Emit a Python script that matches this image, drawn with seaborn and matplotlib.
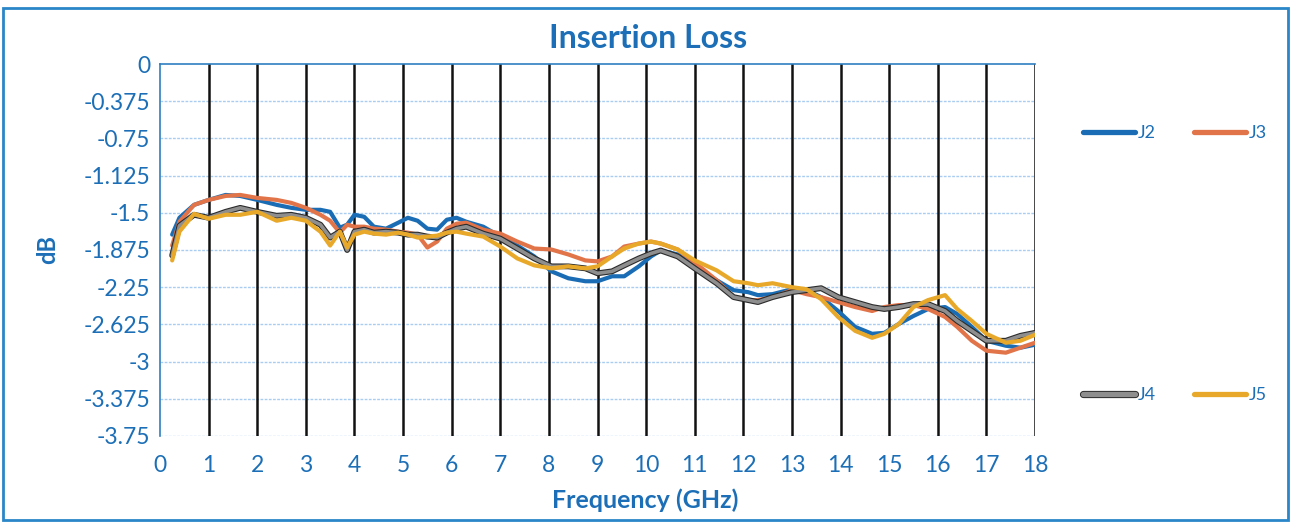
import numpy as np
import pandas as pd
import matplotlib
matplotlib.use("Agg")
import matplotlib.pyplot as plt
import matplotlib.patheffects as pe
from matplotlib.lines import Line2D
from matplotlib.patches import Rectangle
import seaborn as sns

freq = [0.25, 0.4, 0.7, 1.0, 1.35, 1.65, 2.0, 2.4, 2.7, 3.0, 3.3, 3.5, 3.7, 3.85,
        4.0, 4.2, 4.4, 4.65, 4.9, 5.1, 5.3, 5.5, 5.7, 5.9, 6.1, 6.3, 6.65, 7.0,
        7.35, 7.7, 8.05, 8.4, 8.75, 9.0, 9.3, 9.55, 9.85, 10.1, 10.3, 10.65, 11.0,
        11.45, 11.8, 12.1, 12.3, 12.6, 13.0, 13.3, 13.6, 13.95, 14.3, 14.65, 14.9,
        15.2, 15.5, 15.8, 16.15, 16.4, 16.7, 17.0, 17.4, 17.7, 18.0]

j2 = [-1.72, -1.55, -1.42, -1.37, -1.32, -1.33, -1.37, -1.42, -1.45, -1.47, -1.47, -1.49, -1.65, -1.62,
      -1.52, -1.54, -1.64, -1.66, -1.60, -1.55, -1.58, -1.66, -1.67, -1.57, -1.55, -1.59, -1.64, -1.74,
      -1.83, -1.94, -2.09, -2.16, -2.19, -2.19, -2.14, -2.14, -2.04, -1.94, -1.88, -1.92, -2.04,
      -2.18, -2.28, -2.30, -2.33, -2.32, -2.27, -2.28, -2.35, -2.49, -2.65, -2.72, -2.71,
      -2.62, -2.54, -2.47, -2.45, -2.52, -2.65, -2.79, -2.84, -2.86, -2.83]

j3 = [-1.83, -1.59, -1.42, -1.37, -1.33, -1.32, -1.35, -1.37, -1.40, -1.45, -1.52, -1.58, -1.70, -1.62,
      -1.64, -1.64, -1.66, -1.67, -1.69, -1.70, -1.72, -1.85, -1.79, -1.66, -1.61, -1.60, -1.67, -1.71,
      -1.79, -1.86, -1.87, -1.92, -1.98, -1.99, -1.94, -1.84, -1.81, -1.79, -1.81, -1.87, -2.00,
      -2.18, -2.35, -2.38, -2.38, -2.35, -2.28, -2.32, -2.35, -2.40, -2.45, -2.49, -2.45,
      -2.43, -2.43, -2.47, -2.55, -2.65, -2.79, -2.89, -2.91, -2.86, -2.81]

j4 = [-1.93, -1.63, -1.52, -1.55, -1.49, -1.45, -1.49, -1.53, -1.52, -1.55, -1.62, -1.75, -1.69, -1.875,
      -1.69, -1.67, -1.70, -1.69, -1.70, -1.72, -1.72, -1.74, -1.75, -1.70, -1.66, -1.64, -1.71, -1.76,
      -1.86, -1.96, -2.04, -2.04, -2.06, -2.11, -2.09, -2.03, -1.96, -1.91, -1.88, -1.94, -2.06,
      -2.21, -2.35, -2.38, -2.40, -2.35, -2.30, -2.28, -2.26, -2.35, -2.40, -2.45, -2.47,
      -2.45, -2.42, -2.42, -2.49, -2.59, -2.69, -2.79, -2.79, -2.74, -2.71]

j5 = [-1.98, -1.69, -1.51, -1.56, -1.52, -1.52, -1.49, -1.58, -1.55, -1.58, -1.69, -1.83, -1.69, -1.85,
      -1.72, -1.69, -1.71, -1.72, -1.70, -1.72, -1.75, -1.74, -1.73, -1.70, -1.69, -1.71, -1.74, -1.84,
      -1.96, -2.03, -2.06, -2.04, -2.06, -2.04, -1.94, -1.86, -1.81, -1.79, -1.81, -1.87, -1.98,
      -2.08, -2.19, -2.21, -2.23, -2.21, -2.25, -2.27, -2.37, -2.55, -2.69, -2.76, -2.72,
      -2.62, -2.45, -2.38, -2.33, -2.47, -2.59, -2.72, -2.81, -2.79, -2.73]

series_names = ["J2", "J3", "J4", "J5"]
y_ticks = [0, -0.375, -0.75, -1.125, -1.5, -1.875, -2.25, -2.625, -3, -3.375, -3.75]
x_ticks = list(range(0, 19))

colors = {"J2": "#1a6db4", "J3": "#e2744a", "J4": "#8e8e8e", "J5": "#e8a92a"}
text_blue = "#1c6fb7"
FONT = "Lato"

df = pd.concat([
    pd.DataFrame({"freq": freq, "dB": vals, "series": name})
    for name, vals in zip(series_names, [j2, j3, j4, j5])
], ignore_index=True)

fig = plt.figure(figsize=(12.91, 5.25), dpi=100)
ax = fig.add_axes([160 / 1291, 1 - 436 / 525, (1035 - 160) / 1291, (436 - 64) / 525])

sns.lineplot(data=df, x="freq", y="dB", hue="series", hue_order=series_names,
             palette=colors, linewidth=3.0, legend=False, sort=True, ax=ax, zorder=3)

for line, name in zip(ax.get_lines(), series_names):
    line.set_solid_capstyle("round")
    line.set_solid_joinstyle("round")
    if name == "J4":
        line.set_path_effects([pe.Stroke(linewidth=4.2, foreground="#2b2b2b"), pe.Normal()])
        line.set_linewidth(2.6)

ax.set_xlim(0, 18)
ax.set_ylim(-3.75, 0)
ax.set_xticks(x_ticks)
ax.set_yticks(y_ticks)
ax.set_yticklabels([f"{v:g}" for v in y_ticks])
ax.set_xticklabels([str(v) for v in x_ticks])

# gridlines
for yv in y_ticks[1:]:
    ax.axhline(yv, color="#a9cdf0", lw=1.0, ls=(0, (2, 1)), zorder=1)
for xv in x_ticks[1:]:
    ax.axvline(xv, color="#111111", lw=1.8, zorder=2)

for s in ["right", "bottom"]:
    ax.spines[s].set_visible(False)
ax.spines["left"].set_color("#2f7fc1")
ax.spines["top"].set_color("#2f7fc1")
ax.spines["left"].set_linewidth(1.2)
ax.spines["top"].set_linewidth(1.2)

ax.tick_params(axis="both", length=0, colors=text_blue, labelsize=16.5)
ax.tick_params(axis="x", pad=14)
ax.tick_params(axis="y", pad=7)
for lab in ax.get_xticklabels() + ax.get_yticklabels():
    lab.set_fontfamily(FONT)

ax.set_xlabel("Frequency (GHz)", fontsize=18, fontweight="bold", color=text_blue, fontfamily=FONT)
ax.set_ylabel("dB", fontsize=17, fontweight="bold", color=text_blue, fontfamily=FONT)
ax.xaxis.set_label_coords((645 - 160) / 875, -0.14)
ax.yaxis.set_label_coords(-0.115, 0.5)

fig.text(648 / 1291, 1 - 38 / 525, "Insertion Loss", fontsize=23, fontweight="bold",
         color=text_blue, fontfamily=FONT, ha="center", va="center")

def handle(name):
    h = Line2D([0], [0], color=colors[name], lw=3.8, solid_capstyle="round")
    if name == "J4":
        h.set_path_effects([pe.Stroke(linewidth=5.2, foreground="#2b2b2b"), pe.Normal()])
    return h

for names, ypix in [(["J2", "J3"], 133), (["J4", "J5"], 395)]:
    leg = fig.legend(handles=[handle(n) for n in names], labels=names, ncol=2,
                     loc="center left", bbox_to_anchor=(1083 / 1291, 1 - ypix / 525),
                     frameon=False, handlelength=2.9, handletextpad=0.15,
                     columnspacing=2.1, borderpad=0, borderaxespad=0,
                     prop={"family": FONT, "size": 13})
    for t in leg.get_texts():
        t.set_color(text_blue)

fig.patches.append(Rectangle((3 / 1291, 1 - 520 / 525), (1288 - 3) / 1291, (520 - 8) / 525,
                             transform=fig.transFigure, fill=False, edgecolor="#2a86c9",
                             lw=2.0, zorder=0))

fig.savefig("out.png", dpi=100)
